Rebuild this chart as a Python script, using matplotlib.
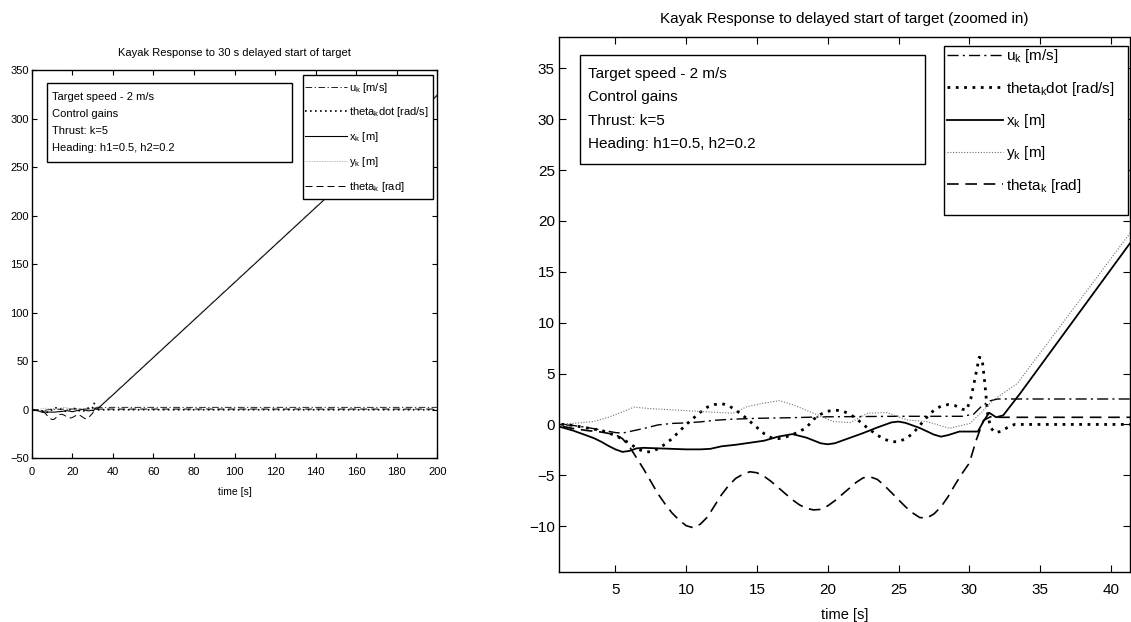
import matplotlib
matplotlib.use("Agg")
import matplotlib.pyplot as plt
from matplotlib.patches import Rectangle

plt.rcParams['font.family'] = ['Liberation Sans', 'DejaVu Sans']
plt.rcParams['mathtext.fontset'] = 'custom'
plt.rcParams['mathtext.rm'] = 'Liberation Sans'

# ---------------- data ----------------
t_u = [0, 1, 2, 3, 4, 5, 5.5, 6, 7, 8, 9, 10, 11, 12, 13, 14, 15, 17, 20, 25,
       29.5, 30.3, 30.8, 31.4, 32, 200]
u_k = [0, 0, -0.1, -0.3, -0.55, -0.8, -0.85, -0.7, -0.4, -0.05, 0.1, 0.15, 0.25,
       0.4, 0.5, 0.55, 0.6, 0.65, 0.75, 0.8, 0.8, 1.0, 1.7, 2.3, 2.5, 2.5]

t_td = [0, 1, 2, 3, 4, 4.6, 5.3, 6, 6.5, 7, 7.5, 8, 8.5, 9, 9.5, 10, 10.5, 11,
        11.5, 12, 12.5, 13, 13.5, 14, 14.5, 15, 15.5, 16, 16.5, 17, 17.5, 18,
        18.5, 19, 19.5, 20, 20.5, 21, 21.5, 22, 22.5, 23, 23.5, 24, 24.5, 25,
        25.5, 26, 26.5, 27, 27.5, 28, 28.5, 29, 29.5, 29.8, 30.1, 30.4, 30.7,
        30.9, 31.1, 31.3, 31.5, 31.8, 32.2, 32.7, 33.2, 200]
thetadot_k = [0, 0.05, -0.1, -0.35, -0.6, -0.87, -1.3, -1.85, -2.35, -2.67, -2.7,
              -2.4, -1.95, -1.4, -0.7, 0.0, 0.6, 1.2, 1.7, 1.95, 2.05, 1.85, 1.4,
              0.9, 0.3, -0.3, -0.9, -1.3, -1.4, -1.25, -1.0, -0.7, -0.3, 0.5, 1.0,
              1.3, 1.4, 1.35, 1.05, 0.6, 0.0, -0.55, -1.05, -1.45, -1.7, -1.7,
              -1.4, -0.9, -0.1, 0.7, 1.4, 1.8, 1.95, 1.85, 1.5, 1.4, 2.5, 4.5,
              6.6, 6.5, 4.0, 1.0, -0.3, -0.8, -0.7, -0.3, 0.0, 0.0]

t_x = [0, 1, 2, 3, 3.5, 4, 4.5, 5, 5.5, 6, 6.5, 7, 8, 9, 10, 11, 11.7, 12.5,
       13.5, 14.5, 15.5, 16.5, 17.5, 18.5, 19.5, 20, 20.5, 21.5, 22.5, 23.5,
       24.5, 25, 25.5, 26.5, 27.5, 28, 28.5, 29.3, 30.6, 31.0, 31.4, 31.9,
       32.4, 33.6, 41.35, 200]
x_k = [0, -0.2, -0.6, -1.1, -1.36, -1.7, -2.1, -2.45, -2.7, -2.6, -2.35, -2.3,
       -2.35, -2.4, -2.45, -2.45, -2.4, -2.15, -2.0, -1.8, -1.6, -1.2, -0.95,
       -1.3, -1.85, -1.95, -1.85, -1.35, -0.85, -0.3, 0.2, 0.28, 0.15, -0.35,
       -1.0, -1.2, -1.05, -0.7, -0.7, 0.3, 1.15, 0.7, 0.9, 3.06, 17.8, 324]

t_y = [0, 1, 2, 3.45, 4.5, 5.8, 6.3, 7.5, 9.4, 11.2, 13.3, 14.3, 15.5, 16.6,
       17.6, 19.0, 20.4, 21.6, 22.8, 24.2, 25.6, 27.0, 28.6, 30.05, 30.8, 31.7,
       33.4, 41.3, 200]
y_k = [0, 0.05, 0.1, 0.28, 0.7, 1.4, 1.7, 1.55, 1.4, 1.26, 1.1, 1.75, 2.1, 2.34,
       1.9, 1.1, 0.28, 0.18, 1.1, 1.16, 0.44, 0.28, -0.38, 0.1, 1.1, 2.4, 4.04,
       18.7, 325]

t_th = [0, 1, 2, 3, 4, 5, 5.5, 6, 6.5, 7, 7.5, 8, 8.5, 9, 9.5, 10, 10.5, 11,
        11.5, 12, 12.5, 13, 13.5, 14, 14.5, 15, 15.5, 16, 16.5, 17, 17.5, 18,
        18.5, 19, 19.5, 20, 20.5, 21, 21.5, 22, 22.5, 23, 23.5, 24, 24.5, 25,
        25.5, 26, 26.5, 27, 27.5, 28, 28.5, 29, 29.5, 30, 30.5, 31, 31.5, 32,
        200]
theta_k = [0, -0.1, -0.4, -0.6, -0.75, -1.0, -1.4, -2.2, -3.3, -4.4, -5.6, -6.8,
           -7.8, -8.7, -9.4, -9.95, -10.15, -9.8, -9.1, -8.0, -6.9, -6.0, -5.3,
           -4.9, -4.65, -4.75, -5.1, -5.6, -6.2, -6.8, -7.4, -7.9, -8.25, -8.4,
           -8.35, -8.0, -7.5, -6.9, -6.3, -5.7, -5.25, -5.15, -5.4, -6.0, -6.7,
           -7.4, -8.1, -8.7, -9.15, -9.2, -8.8, -8.1, -7.1, -5.9, -4.8, -3.8,
           -1.5, 0.4, 0.75, 0.7, 0.7]

labels = [r'u$_\mathregular{k}$ [m/s]', r'theta$_\mathregular{k}$dot [rad/s]',
          r'x$_\mathregular{k}$ [m]', r'y$_\mathregular{k}$ [m]',
          r'theta$_\mathregular{k}$ [rad]']
box_lines = ['Target speed - 2 m/s', 'Control gains', 'Thrust: k=5',
             'Heading: h1=0.5, h2=0.2']

left_title = 'Kayak Response to 30 s delayed start of target'
right_title = 'Kayak Response to delayed start of target (zoomed in)'

# ---------------- figure ----------------
fig = plt.figure(figsize=(11.31, 6.22), dpi=100)
axL = fig.add_axes([0.0280, 0.2632, 0.3587, 0.6243])
axR = fig.add_axes([0.4943, 0.0804, 0.5048, 0.8601])


def draw(ax, scale, tick_fs):
    ax.plot(t_u, u_k, color='black', lw=1.0 * scale, ls=(0, (8, 3, 1.5, 3)), label=labels[0])
    ax.plot(t_td, thetadot_k, color='black', lw=2.0 * scale, ls=(0, (1, 2)), label=labels[1])
    ax.plot(t_x, x_k, color='black', lw=1.3 * scale, ls='-', label=labels[2])
    ax.plot(t_y, y_k, color='#707070', lw=0.8 * scale, ls=(0, (1, 1.5)), label=labels[3])
    ax.plot(t_th, theta_k, color='black', lw=1.2 * scale, ls=(0, (7, 4)), label=labels[4])
    ax.tick_params(direction='in', top=True, right=True, labelsize=tick_fs,
                   length=4 * scale + 1, width=0.8)
    for s in ax.spines.values():
        s.set_linewidth(1.0)


def textbox(ax, fs):
    ax.add_patch(Rectangle((0.037, 0.763), 0.604, 0.203, transform=ax.transAxes,
                           facecolor='white', edgecolor='black', lw=1.0, zorder=5))
    ys = [0.930, 0.887, 0.843, 0.800]
    for s, y in zip(box_lines, ys):
        ax.text(0.051, y, s, transform=ax.transAxes, fontsize=fs, va='center',
                ha='left', zorder=6)


def legend_box(ax, x0, x1, y0, y1, hx, yc, fs, ls, hl):
    ax.add_patch(Rectangle((x0, y0), x1 - x0, y1 - y0, transform=ax.transAxes,
                           facecolor='white', edgecolor='black', lw=1.0, zorder=4.9))
    leg = ax.legend(loc='center left', bbox_to_anchor=(hx, yc), borderaxespad=0,
                    borderpad=0, fontsize=fs, frameon=False, handlelength=hl,
                    handletextpad=0.2, labelspacing=ls)
    leg.set_zorder(5.5)
    return leg


# left panel
draw(axL, 0.6, 8)
axL.set_xlim(0, 200)
axL.set_ylim(-50, 350)
axL.set_xticks(range(0, 201, 20))
axL.set_yticks(range(-50, 351, 50))
axL.tick_params(axis='x', pad=6.5)
axL.tick_params(axis='y', pad=2)
axL.set_title(left_title, fontsize=8, pad=10)
axL.set_xlabel('time [s]', fontsize=7.5, labelpad=7)
textbox(axL, 8)
legend_box(axL, 0.668, 0.990, 0.667, 0.987, 0.674, 0.827, 8, 0.97, 3.75)

# right panel
draw(axR, 1.0, 11)
axR.set_xlim(1.02, 41.35)
axR.set_ylim(-14.5, 38.07)
axR.set_xticks(range(5, 41, 5))
axR.set_yticks(range(-10, 36, 5))
axR.tick_params(axis='x', pad=8)
axR.tick_params(axis='y', pad=3)
axR.set_title(right_title, fontsize=11, pad=10)
axR.set_xlabel('time [s]', fontsize=10.5, labelpad=8)
textbox(axR, 11)
legend_box(axR, 0.6736, 0.9965, 0.6673, 0.9832, 0.679, 0.8430, 11, 0.94, 3.66)

fig.savefig('out.png', dpi=100)
